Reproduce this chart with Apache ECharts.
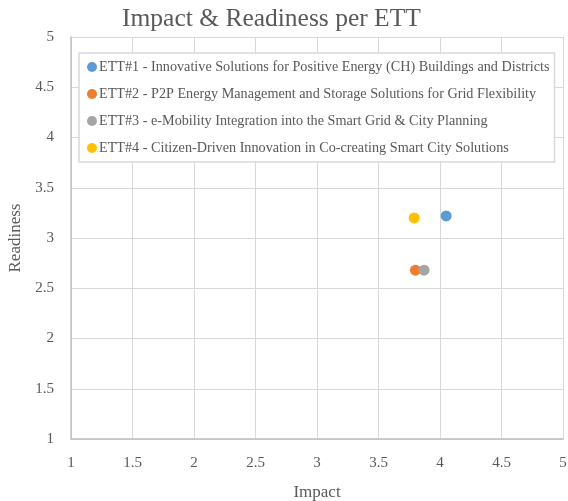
<!DOCTYPE html>
<html>
<head>
<meta charset="utf-8">
<script src="https://cdn.jsdelivr.net/npm/echarts@6/dist/echarts.min.js"></script>
<style>
  html, body { margin: 0; padding: 0; background: #fff; }
  #chart { width: 568px; height: 501px; }
</style>
</head>
<body>
<div id="chart"></div>
<script>
// ETT labels and their (impact, readiness) scores
const ettNames = [
  'ETT#1 - Innovative Solutions for Positive Energy (CH) Buildings and Districts',
  'ETT#2 - P2P Energy Management and Storage Solutions for Grid Flexibility',
  'ETT#3 - e-Mobility Integration into the Smart Grid & City Planning',
  'ETT#4 - Citizen-Driven Innovation in Co-creating Smart City Solutions'
];
const impactValues = [4.05, 3.8, 3.87, 3.79];
const readinessValues = [3.22, 2.68, 2.68, 3.2];
const ettColors = ['#5B9BD5', '#ED7D31', '#A5A5A5', '#FFC000'];

const FONT = '"Liberation Serif", "Times New Roman", serif';
const TXT = '#595959';

const chart = echarts.init(document.getElementById('chart'));

chart.setOption({
  animation: false,
  title: {
    text: 'Impact & Readiness per ETT',
    left: 117,
    top: 1,
    textStyle: { fontFamily: FONT, fontSize: 25.5, fontWeight: 'normal', color: TXT }
  },
  grid: { left: 71, right: 5, top: 37, bottom: 62, outerBoundsMode: 'none' },
  legend: {
    orient: 'vertical',
    left: 79,
    top: 53,
    padding: [7, 5, 7, 8],
    itemGap: 13,
    itemWidth: 10,
    itemHeight: 10,
    icon: 'circle',
    backgroundColor: '#fff',
    borderColor: '#d9d9d9',
    borderWidth: 1.5,
    textStyle: { fontFamily: FONT, fontSize: 14.2, color: TXT, padding: [0, 0, 0, -3] },
    data: ettNames
  },
  xAxis: {
    type: 'value',
    min: 1,
    max: 5,
    interval: 0.5,
    name: 'Impact',
    nameLocation: 'middle',
    nameGap: 45,
    nameTextStyle: { fontFamily: FONT, fontSize: 17, color: TXT },
    axisLine: { show: true, lineStyle: { color: '#bfbfbf', width: 1.5 } },
    axisTick: { show: false },
    axisLabel: { fontFamily: FONT, fontSize: 15, color: TXT, margin: 17 },
    splitLine: { show: true, lineStyle: { color: '#d9d9d9', width: 1 } }
  },
  yAxis: {
    type: 'value',
    min: 1,
    max: 5,
    interval: 0.5,
    name: 'Readiness',
    nameLocation: 'middle',
    nameGap: 47,
    nameTextStyle: { fontFamily: FONT, fontSize: 17, color: TXT },
    axisLine: { show: true, lineStyle: { color: '#bfbfbf', width: 1.5 } },
    axisTick: { show: false },
    axisLabel: { fontFamily: FONT, fontSize: 15, color: TXT, margin: 17 },
    splitLine: { show: true, lineStyle: { color: '#d9d9d9', width: 1 } }
  },
  series: ettNames.map((name, i) => ({
    name: name,
    type: 'scatter',
    symbol: 'circle',
    symbolSize: 11,
    itemStyle: { color: ettColors[i], opacity: 1 },
    data: [[impactValues[i], readinessValues[i]]]
  }))
});
</script>
</body>
</html>
